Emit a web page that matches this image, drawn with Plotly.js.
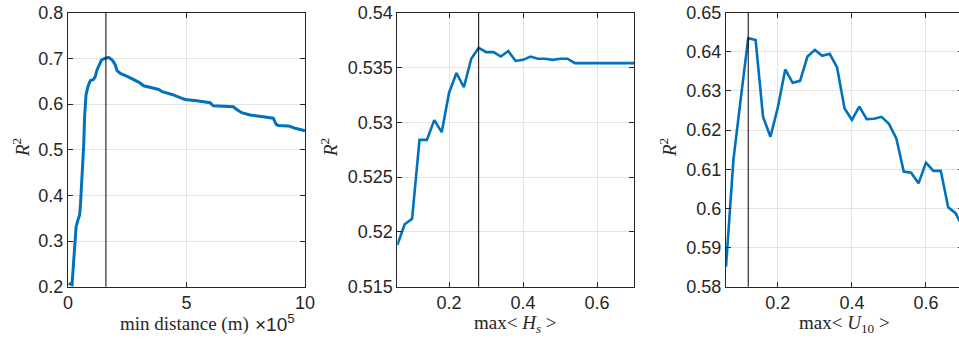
<!DOCTYPE html>
<html>
<head>
<meta charset="utf-8">
<script src="https://cdn.plot.ly/plotly-3.0.1.min.js"></script>
<style>
  html, body { margin: 0; padding: 0; background: #fff; overflow: hidden; }
  #chart { width: 966px; height: 339px; }
</style>
</head>
<body>
<div id="chart"></div>
<script>
// Panel 1: R^2 against the minimum distance threshold (m)
const minDistance = [4000, 6000, 17000, 21000, 28000, 34000, 42000, 49000, 53000, 59000, 66000, 70000,
  76000, 84000, 94000, 108000, 115000, 122000, 132000, 141000, 155000, 172000, 189000, 200000,
  207000, 221000, 256000, 298000, 319000, 383000, 397000, 439000, 473000, 494000, 543000, 599000,
  613000, 697000, 712000, 733000, 768000, 838000, 866000, 878000, 887000, 930000, 958000, 996000, 1000000];
const r2Distance = [0.208, 0.207, 0.204, 0.237, 0.302, 0.331, 0.346, 0.357, 0.383, 0.434, 0.507, 0.572,
  0.620, 0.638, 0.651, 0.654, 0.660, 0.674, 0.688, 0.696, 0.700, 0.702, 0.695, 0.685,
  0.673, 0.667, 0.659, 0.648, 0.640, 0.632, 0.627, 0.621, 0.614, 0.610, 0.607, 0.603,
  0.596, 0.594, 0.588, 0.581, 0.576, 0.572, 0.569, 0.556, 0.553, 0.552, 0.547, 0.542, 0.541];
const bestDistance = 160000;

// Panels 2 and 3: R^2 against the max <Hs> and max <U10> thresholds
const thresholds = [0.06, 0.08, 0.10, 0.12, 0.14, 0.16, 0.18, 0.20, 0.22, 0.24, 0.26, 0.28, 0.30,
  0.32, 0.34, 0.36, 0.38, 0.40, 0.42, 0.44, 0.46, 0.48, 0.50, 0.52, 0.54, 0.56, 0.58, 0.60,
  0.62, 0.64, 0.66, 0.68, 0.70];
const r2Hs = [0.5188, 0.5207, 0.5212, 0.5284, 0.5284, 0.5302, 0.5291, 0.5327, 0.5345, 0.5332, 0.5358,
  0.5368, 0.5364, 0.5364, 0.5360, 0.5365, 0.5356, 0.5357, 0.5360, 0.5358, 0.5358, 0.5357, 0.5358,
  0.5358, 0.5354, 0.5354, 0.5354, 0.5354, 0.5354, 0.5354, 0.5354, 0.5354, 0.5354];
const bestHs = 0.28;
const r2U10 = [0.5851, 0.6124, 0.6281, 0.6435, 0.6430, 0.6234, 0.6183, 0.6258, 0.6355, 0.6321, 0.6326,
  0.6388, 0.6405, 0.6390, 0.6395, 0.6360, 0.6256, 0.6226, 0.6260, 0.6228, 0.6229, 0.6234, 0.6216,
  0.6179, 0.6094, 0.6091, 0.6064, 0.6117, 0.6096, 0.6096, 0.6003, 0.5988, 0.5950];
const bestU10 = 0.12;

// Tick labels
const distTickVals = [0, 500000, 1000000];
const distTickText = ['0', '5', '10'];

const W = 966, H = 339;
const px = v => v / W;
const py = v => 1 - v / H;

const LINE = '#0072BD';
const AX = '#262626';
const GRID = '#e3e3e3';
const SANS = 'Liberation Sans, Arial, sans-serif';
const SERIF = 'Liberation Serif, Times New Roman, serif';

const yDom = [py(286.7), py(12.7)];

function axisBase(extra) {
  return Object.assign({
    showline: true, linecolor: AX, linewidth: 1, mirror: 'ticks',
    ticks: 'inside', ticklen: 5, tickcolor: AX, tickwidth: 1,
    showgrid: true, gridcolor: GRID, gridwidth: 1, zeroline: false,
    tickfont: { family: SANS, size: 18, color: AX },
    fixedrange: true
  }, extra);
}

const traces = [
  { x: minDistance, y: r2Distance, xaxis: 'x', yaxis: 'y', type: 'scatter', mode: 'lines',
    line: { color: LINE, width: 3 } },
  { x: thresholds, y: r2Hs, xaxis: 'x2', yaxis: 'y2', type: 'scatter', mode: 'lines',
    line: { color: LINE, width: 2.6 } },
  { x: thresholds, y: r2U10, xaxis: 'x3', yaxis: 'y3', type: 'scatter', mode: 'lines',
    line: { color: LINE, width: 2.6 } }
];

function vline(xref, yref, x) {
  return { type: 'line', xref: xref, yref: yref + ' domain', x0: x, x1: x, y0: 0, y1: 1,
    line: { color: '#000', width: 1 }, layer: 'above' };
}

function yTitle(xPix) {
  return { xref: 'paper', yref: 'paper', x: px(xPix), y: py(148), text: '<i>R</i><sup>2</sup>',
    showarrow: false, textangle: -90, xanchor: 'center', yanchor: 'middle',
    font: { family: SERIF, size: 19, color: AX } };
}

function xTitle(xPix, text) {
  return { xref: 'paper', yref: 'paper', x: px(xPix), y: py(324), text: text,
    showarrow: false, xanchor: 'center', yanchor: 'middle',
    font: { family: SERIF, size: 19, color: AX } };
}

const layout = {
  width: W, height: H,
  margin: { l: 0, r: 0, t: 0, b: 0 },
  paper_bgcolor: '#fff', plot_bgcolor: '#fff',
  showlegend: false,
  xaxis: axisBase({ domain: [px(68), px(305)], range: [0, 1000000], anchor: 'y',
    tickvals: distTickVals, ticktext: distTickText }),
  yaxis: axisBase({ domain: yDom, range: [0.2, 0.8], dtick: 0.1, anchor: 'x' }),
  xaxis2: axisBase({ domain: [px(397.3), px(634)], range: [0.06, 0.7], tick0: 0, dtick: 0.2, anchor: 'y2' }),
  yaxis2: axisBase({ domain: yDom, range: [0.515, 0.54], dtick: 0.005, anchor: 'x2' }),
  xaxis3: axisBase({ domain: [px(726), px(963)], range: [0.06, 0.7], tick0: 0, dtick: 0.2, anchor: 'y3' }),
  yaxis3: axisBase({ domain: yDom, range: [0.58, 0.65], dtick: 0.01, anchor: 'x3' }),
  shapes: [vline('x', 'y', bestDistance), vline('x2', 'y2', bestHs), vline('x3', 'y3', bestU10)],
  annotations: [
    yTitle(21), yTitle(329), yTitle(668),
    xTitle(184, 'min distance (m)'),
    xTitle(515, 'max&lt; <i>H</i><sub><i>s</i></sub> &gt;'),
    xTitle(844, 'max&lt; <i>U</i><sub>10</sub> &gt;'),
    { xref: 'paper', yref: 'paper', x: px(253), y: py(323), text: '×10<sup>5</sup>',
      showarrow: false, xanchor: 'left', yanchor: 'middle',
      font: { family: SANS, size: 19, color: AX } }
  ]
};

Plotly.newPlot('chart', traces, layout, { staticPlot: true, displayModeBar: false });
</script>
</body>
</html>
